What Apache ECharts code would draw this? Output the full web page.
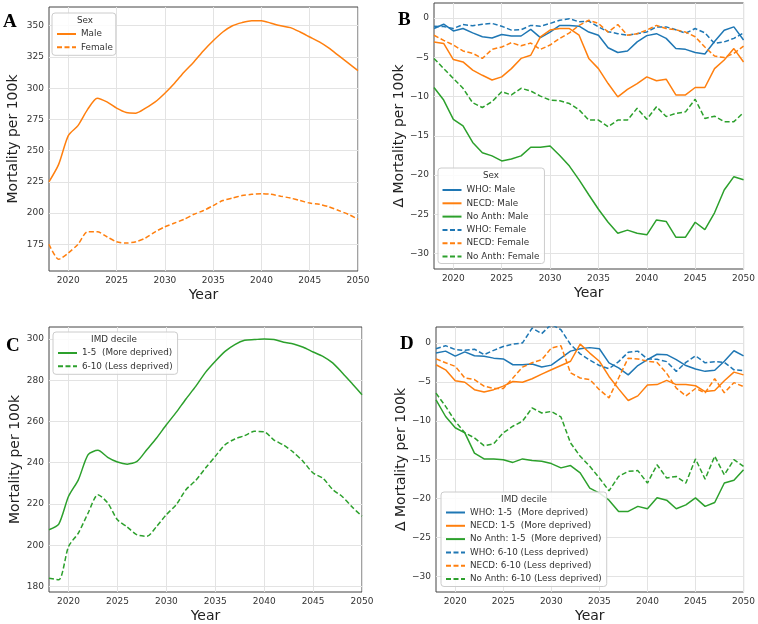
<!DOCTYPE html>
<html><head><meta charset="utf-8">
<script src="https://cdn.jsdelivr.net/npm/echarts@6/dist/echarts.min.js"></script>
<style>html,body{margin:0;padding:0;background:#fff}#c{width:758px;height:624px}</style>
</head><body><div id="c"></div>
<script>
// ---------- data ----------
const years = [2018,2019,2020,2021,2022,2023,2024,2025,2026,2027,2028,2029,2030,2031,2032,2033,2034,2035,2036,2037,2038,2039,2040,2041,2042,2043,2044,2045,2046,2047,2048,2049,2050];
const xTicks = [2020,2025,2030,2035,2040,2045,2050];
const yTicksA = [175,200,225,250,275,300,325,350];
const yTicksB = [-30,-25,-20,-15,-10,-5,0];
const yTicksC = [180,200,220,240,260,280,300];
const yTicksD = [-30,-25,-20,-15,-10,-5,0];

// Panel A: mortality by sex
const maleA   = [225,239,262,270,283,292,289,284,280.5,280,284,289,296,304,313,321,330,338,345,350,352.5,354,354,352,350,348.5,345,341,337,332,326,320,314];
const femaleA = [175,163,168,175,185,185,181,177,176,177,180,185,189,192,195,199,202,206,210,212,214,215,215.5,215,213.5,212,210,208,207,205,202,199,195];

// Panel B: change in mortality by sex
const whoMaleB     = [-1.35,-0.8,-1.65,-1.35,-1.9,-2.4,-2.55,-2.1,-2.3,-2.3,-1.45,-2.5,-1.8,-0.95,-0.95,-1.05,-1.8,-2.2,-3.8,-4.4,-4.2,-3.05,-2.25,-2.0,-2.6,-3.9,-4.0,-4.4,-4.6,-3.0,-1.56,-1.14,-2.8];
const necdMaleB    = [-3.05,-3.25,-5.3,-5.6,-6.65,-7.3,-7.9,-7.5,-6.45,-5.15,-4.75,-2.4,-1.55,-1.35,-1.35,-2.2,-5.15,-6.45,-8.35,-10.05,-9.1,-8.35,-7.5,-8.0,-7.8,-9.8,-9.8,-8.85,-8.85,-6.45,-5.35,-3.9,-5.6];
const noAnthMaleB  = [-8.85,-10.45,-12.9,-13.75,-15.85,-17.15,-17.55,-18.2,-17.95,-17.55,-16.45,-16.45,-16.3,-17.5,-18.85,-20.6,-22.5,-24.35,-26.0,-27.4,-27.0,-27.4,-27.6,-25.7,-25.9,-27.9,-27.9,-26.0,-26.95,-24.8,-21.9,-20.2,-20.6];
const whoFemaleB   = [-1.05,-1.1,-1.35,-0.85,-1.0,-0.8,-0.7,-1.05,-1.55,-1.5,-0.95,-1.05,-0.7,-0.3,-0.1,-0.5,-0.4,-1.15,-1.75,-2.0,-2.2,-2.0,-1.78,-1.14,-1.14,-1.5,-1.95,-1.35,-1.9,-3.25,-3.05,-2.6,-1.9];
const necdFemaleB  = [-2.2,-2.85,-3.45,-4.2,-4.5,-5.15,-4.0,-3.7,-3.15,-3.55,-3.2,-4.0,-3.45,-2.6,-1.9,-0.95,-0.3,-0.7,-1.8,-0.85,-2.2,-2.0,-1.55,-0.95,-1.35,-1.5,-1.8,-2.4,-3.7,-4.85,-5.05,-4.5,-3.6];
const noAnthFemaleB= [-5.15,-6.45,-7.7,-8.95,-10.8,-11.4,-10.65,-9.4,-9.8,-8.95,-9.3,-9.95,-10.45,-10.55,-10.9,-11.7,-13.0,-13.0,-13.85,-13.0,-13.0,-11.5,-12.9,-11.3,-12.55,-12.15,-11.95,-10.35,-12.8,-12.5,-13.2,-13.2,-12.05];

// Panel C: mortality by IMD decile
const moreDepC = [207.5,210.2,223.7,231.7,243.9,246,242.6,240.3,239.3,240.6,246.3,252,258.4,264.4,270.9,277,283.8,289.2,294,297.3,299.4,299.7,300,299.7,298.4,297.6,296,293.7,291.6,288.4,283.5,278.3,273];
const lessDepC = [184,183.2,199.4,205.9,215.6,224.5,220.5,212.3,208.8,205,204.3,209.1,214.8,219.6,226.9,231.4,237.4,243.1,248.7,251.5,253.1,255.2,255,251,248.5,245,240.5,235,232.5,227,223.5,218.5,214];

// Panel D: change in mortality by IMD decile
const whoMoreD     = [-1.3,-1.05,-1.7,-1.15,-1.65,-1.7,-1.95,-2.05,-2.8,-2.8,-2.7,-3.1,-2.85,-1.95,-1.05,-0.75,-0.6,-0.75,-2.55,-3.2,-4.1,-2.9,-2.15,-1.45,-1.5,-2.15,-2.9,-3.35,-3.65,-3.5,-2.35,-1.0,-1.65];
const necdMoreD    = [-2.8,-3.45,-4.85,-5.05,-6.0,-6.3,-6.0,-5.55,-4.95,-5.05,-4.6,-4.0,-3.45,-2.9,-2.35,-0.15,-1.3,-2.35,-4.3,-5.9,-7.4,-6.8,-5.4,-5.35,-4.8,-5.35,-5.35,-5.5,-6.25,-6.1,-4.85,-3.75,-4.1];
const noAnthMoreD  = [-7.3,-9.45,-10.9,-11.55,-14.15,-14.9,-14.9,-15.0,-15.35,-14.9,-15.1,-15.2,-15.5,-16.05,-15.75,-16.7,-18.65,-19.3,-20.2,-21.65,-21.65,-21.0,-21.3,-19.9,-20.2,-21.3,-20.8,-19.9,-21.0,-20.5,-18.0,-17.65,-16.3];
const whoLessD     = [-0.75,-0.35,-0.85,-0.95,-0.8,-1.5,-0.95,-0.45,-0.15,0,1.9,1.2,2.4,1.7,-0.2,-1.4,-2.2,-2.9,-3.3,-2.4,-1.2,-1.05,-2.05,-2.1,-2.4,-3.65,-2.5,-1.65,-2.55,-2.4,-2.5,-3.45,-3.55];
const necdLessD    = [-2.05,-2.55,-3.0,-4.5,-4.7,-5.55,-5.85,-5.85,-4.5,-3.1,-2.55,-2.15,-0.65,-0.35,-3.85,-4.5,-4.7,-6.0,-7.05,-4.5,-1.95,-2.05,-2.35,-2.5,-3.9,-5.8,-6.8,-5.85,-6.4,-4.6,-6.4,-5.1,-5.6];
const noAnthLessD  = [-6.45,-8.15,-10.05,-11.55,-12.2,-13.2,-12.95,-11.55,-10.7,-10.05,-8.35,-9.0,-8.8,-9.5,-12.85,-14.55,-15.85,-17.35,-19.0,-17.15,-16.5,-16.4,-18.0,-15.65,-17.35,-17.15,-18.0,-14.9,-17.5,-14.55,-16.95,-15.0,-15.85];

// ---------- styling ----------
const BLUE = '#1f77b4', ORANGE = '#ff7f0e', GREEN = '#2ca02c';
const FONT = 'DejaVu Sans';
const DASH = [5, 2.5];

function pairs(vals){ return years.map((y,i)=>[y, vals[i]]); }
function line(name, vals, color, dashed, idx, smooth){
  return {
    type:'line', name, data: pairs(vals), xAxisIndex: idx, yAxisIndex: idx,
    symbol:'none', smooth: smooth || false, animation:false, clip:true,
    lineStyle:{color, width:1.5, type: dashed ? DASH : 'solid'},
    itemStyle:{color}
  };
}
function xAx(idx){
  return {
    type:'value', gridIndex: idx, min:2018, max:2050,
    name:'Year', nameLocation:'middle', nameGap:17,
    nameTextStyle:{fontFamily:FONT, fontSize:14, color:'#222'},
    axisLine:{show:false}, axisTick:{show:false, customValues:xTicks},
    axisLabel:{customValues:xTicks, fontFamily:FONT, fontSize:9, color:'#333', margin:5,
      formatter: v => String(v)},
    splitLine:{show:true, lineStyle:{color:'#e3e3e3', width:1}}
  };
}
function yAx(idx, min, max, ticks, name, gap){
  return {
    type:'value', gridIndex: idx, min, max,
    name, nameLocation:'middle', nameGap:gap,
    nameTextStyle:{fontFamily:FONT, fontSize:14, color:'#222'},
    axisLine:{show:false}, axisTick:{show:false, customValues:ticks},
    axisLabel:{customValues:ticks, fontFamily:FONT, fontSize:9, color:'#333', margin:5,
      formatter: v => (v < 0 ? '\u2212' + Math.abs(v) : String(v))},
    splitLine:{show:true, lineStyle:{color:'#e3e3e3', width:1}}
  };
}
function legend(names, left, top, pad){
  return {
    data: names, orient:'vertical', left, top, padding: pad,
    itemWidth:19, itemHeight:9, itemGap:4.3,
    itemStyle:{opacity:0, borderWidth:0},
    backgroundColor:'rgba(255,255,255,0.85)', borderColor:'#cccccc', borderWidth:1, borderRadius:3,
    textStyle:{fontFamily:FONT, fontSize:8.8, color:'#333'},
    selectedMode:false
  };
}
function letter(x, y, s){
  return {type:'text', z:100, x, y, style:{text:s, font:'bold 19px "Liberation Serif"', fill:'#000', align:'left', verticalAlign:'middle'}};
}
function ltitle(x, y, s){
  return {type:'text', z:100, x, y, style:{text:s, font:'8.8px "DejaVu Sans"', fill:'#333', align:'center', verticalAlign:'middle'}};
}

const gridStyle = {show:true, borderColor:'#444', borderWidth:1, backgroundColor:'#fff', containLabel:false};

const namesA = ['Male','Female'];
const namesB = ['WHO: Male','NECD: Male','No Anth: Male','WHO: Female','NECD: Female','No Anth: Female'];
const namesC = ['1-5  (More deprived)','6-10 (Less deprived)'];
const namesD = ['WHO: 1-5  (More deprived)','NECD: 1-5  (More deprived)','No Anth: 1-5  (More deprived)','WHO: 6-10 (Less deprived)','NECD: 6-10 (Less deprived)','No Anth: 6-10 (Less deprived)'];

const option = {
  backgroundColor:'#fff',
  animation:false,
  grid:[
    Object.assign({left:49, top:7, width:309, height:264}, gridStyle),
    Object.assign({left:434, top:3, width:311, height:266}, gridStyle),
    Object.assign({left:49, top:327, width:313, height:265}, gridStyle),
    Object.assign({left:436, top:327, width:310, height:265}, gridStyle)
  ],
  xAxis:[xAx(0), xAx(1), xAx(2), xAx(3)],
  yAxis:[
    yAx(0, 153.6, 365, yTicksA, 'Mortality per 100k', 29),
    yAx(1, -31.95, 1.9, yTicksB, '\u0394 Mortality per 100k', 27),
    yAx(2, 177.3, 305.8, yTicksC, 'Mortality per 100k', 27),
    yAx(3, -32, 2.05, yTicksD, '\u0394 Mortality per 100k', 28)
  ],
  legend:[
    legend(namesA, 52, 13, [16.5,3,3.5,4]),
    legend(namesB, 438, 168, [17.5,5,2.5,3.5]),
    legend(namesC, 53, 332, [16.5,5,3.5,4]),
    legend(namesD, 441, 492, [16,5,3,4])
  ],
  graphic:[
    letter(3, 22, 'A'), letter(398, 20, 'B'), letter(6, 346, 'C'), letter(400, 344, 'D'),
    ltitle(85, 21, 'Sex'), ltitle(491, 176, 'Sex'),
    ltitle(114, 339.5, 'IMD decile'), ltitle(524, 499.5, 'IMD decile')
  ],
  series:[
    line('Male', maleA, ORANGE, false, 0, 0.25),
    line('Female', femaleA, ORANGE, true, 0, 0.25),
    line('WHO: Male', whoMaleB, BLUE, false, 1),
    line('NECD: Male', necdMaleB, ORANGE, false, 1),
    line('No Anth: Male', noAnthMaleB, GREEN, false, 1),
    line('WHO: Female', whoFemaleB, BLUE, true, 1),
    line('NECD: Female', necdFemaleB, ORANGE, true, 1),
    line('No Anth: Female', noAnthFemaleB, GREEN, true, 1),
    line('1-5  (More deprived)', moreDepC, GREEN, false, 2, 0.25),
    line('6-10 (Less deprived)', lessDepC, GREEN, true, 2, 0.25),
    line('WHO: 1-5  (More deprived)', whoMoreD, BLUE, false, 3),
    line('NECD: 1-5  (More deprived)', necdMoreD, ORANGE, false, 3),
    line('No Anth: 1-5  (More deprived)', noAnthMoreD, GREEN, false, 3),
    line('WHO: 6-10 (Less deprived)', whoLessD, BLUE, true, 3),
    line('NECD: 6-10 (Less deprived)', necdLessD, ORANGE, true, 3),
    line('No Anth: 6-10 (Less deprived)', noAnthLessD, GREEN, true, 3)
  ]
};
const chart = echarts.init(document.getElementById('c'), null, {renderer:'canvas'});
chart.setOption(option);
</script></body></html>
